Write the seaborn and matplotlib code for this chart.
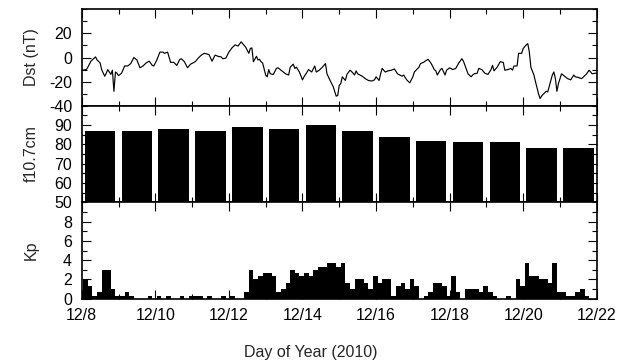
import numpy as np
import pandas as pd
import matplotlib
matplotlib.use("Agg")
import matplotlib.pyplot as plt
import seaborn as sns
from matplotlib.ticker import MultipleLocator, FixedLocator

sns.set_theme(style="ticks")
plt.rcParams['font.family'] = ['Liberation Sans', 'DejaVu Sans']
plt.rcParams['axes.unicode_minus'] = False

# ---------------- data ----------------
date_ticks = [0, 2, 4, 6, 8, 10, 12, 14]          # days after 12/8
date_labels = ["12/8", "12/10", "12/12", "12/14", "12/16", "12/18", "12/20", "12/22"]

# Dst (hours after 12/8 00UT, nT)
dst_hours = [0, 3, 4, 6, 9, 10, 12, 13, 15, 16, 17, 19, 20, 21, 22, 23, 24, 26, 28, 30,
             32, 34, 36, 38, 40, 42, 44, 46, 47, 49, 51, 53, 54, 56, 58, 60, 62, 64, 65, 67,
             69, 71, 74, 76, 78, 80, 83, 85, 87, 89, 91, 92, 94, 96, 98, 100, 102, 104, 105, 107,
             109, 110, 111, 112, 114, 115, 116, 117, 118, 120, 121, 122, 123, 125, 127, 128, 130, 133, 135, 136,
             138, 139, 140, 142, 144, 145, 147, 148, 150, 152, 153, 155, 157, 159, 160, 162, 164, 166, 167, 168,
             169, 170, 172, 173, 175, 176, 178, 179, 180, 183, 185, 187, 189, 191, 192, 194, 195, 196, 198, 200,
             202, 204, 206, 209, 210, 212, 214, 216, 217, 220, 221, 223, 224, 226, 228, 230, 231, 232, 234, 235,
             237, 238, 240, 242, 244, 246, 248, 249, 250, 252, 254, 255, 256, 258, 259, 261, 263, 265, 267, 268,
             269, 271, 273, 275, 276, 278, 280, 281, 282, 284, 285, 287, 288, 290, 291, 292, 293, 295, 296, 298,
             299, 300, 301, 303, 304, 306, 307, 308, 309, 310, 311, 313, 314, 317, 319, 321, 322, 324, 326, 327,
             329, 331, 332, 333, 335, 336]
dst_values = [-10.5, -10, -8, -3, 0.5, -2, -4.5, -10, -15.5, -13, -10, -14, -10.5, -28, -12, -13, -15, -13, -7, -7,
              -5, 0, -2, -8.5, -7, -4.5, -3, -6.5, -7, -2, 4.5, 4.5, 3.5, 4.5, -4, -4, -6.5, -1.5, -1, -3.5,
              -8.5, -5.5, -3.5, -0.5, 2, 3.5, 2.5, -3, 2, 1, 0.5, -1, -0.5, 4.5, 8, 10.5, 9.5, 13, 11.5, 8.5,
              3.5, 7.5, 8, -3.5, 1, -2, -1.5, -3.5, -4.5, -14.5, -16, -10, -13.5, -14, -9, -8.5, -10.5, -13.5, -14.5, -8,
              -5.5, -9, -8, -12, -18.5, -16, -12, -10, -12, -7, -12, -10.5, -8, -5, -13.5, -19, -24, -32, -31.5, -23,
              -21.5, -16, -19, -14, -10.5, -11.5, -14.5, -11, -13.5, -15.5, -17.5, -19, -19.5, -18.5, -16, -19, -13.5, -9, -12, -11,
              -10.5, -9.5, -13.5, -15.5, -14.5, -18.5, -21, -16, -12, -8, -5, -4, -3, -1.5, -5, -10, -11, -14.5, -10, -9,
              -14.5, -10.5, -8.5, -10, -9, -4.5, -1, -3, -6.5, -13.5, -16, -14.5, -13.5, -13, -9, -10, -13, -14, -10, -6.5,
              -11, -8, -3.5, -4, -10.5, -10, -9, -10.5, -7, -7, 3.5, 3.5, 7.5, 10.5, 11.5, 4.5, -8, -14.5, -20, -30,
              -34, -32, -30.5, -28, -28.5, -19, -14.5, -12, -17.5, -28, -21.5, -13.5, -14.5, -17.5, -18.5, -14.5, -16, -16.5, -17.5, -16.5,
              -14, -10.5, -12, -13.5, -13, -13]

# daily F10.7 (12/8 ... 12/21)
f107_day = list(range(14))
f107_values = [87, 87, 88, 87, 89, 88, 90, 87, 84, 82, 81, 81, 78, 78]

# 3-hourly Kp (12/8 00UT ... 12/21 21UT)
kp_values = [2.0, 1.33, 0.33, 0.67, 3.0, 3.0, 1.0, 0.33,
             0.33, 0.67, 0.33, 0, 0, 0, 0.33, 0,
             0.33, 0, 0.33, 0, 0, 0.33, 0, 0.33,
             0.33, 0.33, 0, 0.33, 0, 0, 0.33, 0,
             0.33, 0, 0, 0.67, 3.0, 2.0, 2.33, 2.67,
             2.67, 2.33, 0.67, 1.0, 1.67, 3.0, 2.67, 2.33,
             2.67, 2.33, 3.0, 3.33, 3.33, 3.67, 3.67, 3.33,
             3.67, 1.67, 1.0, 2.0, 2.0, 1.67, 1.0, 2.33,
             1.67, 2.0, 2.0, 0.33, 1.33, 1.67, 1.0, 2.0,
             1.33, 0, 0.33, 0.67, 1.67, 1.67, 1.33, 0.33,
             2.33, 0.67, 0, 1.0, 1.0, 1.0, 0.67, 1.33,
             0.67, 0.33, 0, 0, 0.33, 0, 2.0, 1.33,
             3.67, 2.33, 2.33, 2.0, 2.0, 1.67, 3.67, 0.67,
             0.67, 0.33, 0.33, 0.67, 1.0, 0.33, 0, 0]

# ---------------- figure ----------------
FS = 11.5
fig, (ax1, ax2, ax3) = plt.subplots(3, 1, figsize=(6.21, 3.63), dpi=100, sharex=True)
fig.subplots_adjust(left=0.1316, right=0.961, top=0.9744, bottom=0.177, hspace=0)

dst_df = pd.DataFrame({"day": np.array(dst_hours) / 24.0, "dst": dst_values})
sns.lineplot(data=dst_df, x="day", y="dst", color="black", linewidth=0.85, ax=ax1)

f107_df = pd.DataFrame({"day": np.array(f107_day) + 0.5, "f107": f107_values})
sns.barplot(data=f107_df, x="day", y="f107", native_scale=True, width=0.83,
            color="black", saturation=1, errorbar=None, linewidth=0, ax=ax2)

kp_df = pd.DataFrame({"day": (np.arange(len(kp_values)) * 3 + 2.5) / 24.0, "kp": kp_values})
sns.barplot(data=kp_df, x="day", y="kp", native_scale=True, width=1.0,
            color="black", saturation=1, errorbar=None, linewidth=0, ax=ax3)

ax1.set_ylim(-40, 40)
ax1.yaxis.set_major_locator(FixedLocator([-40, -20, 0, 20]))
ax1.yaxis.set_minor_locator(MultipleLocator(10))
ax1.set_ylabel("Dst (nT)")

ax2.set_ylim(50, 100)
ax2.yaxis.set_major_locator(FixedLocator([50, 60, 70, 80, 90]))
ax2.yaxis.set_minor_locator(MultipleLocator(5))
ax2.set_ylabel("f10.7cm")

ax3.set_ylim(0, 10)
ax3.yaxis.set_major_locator(FixedLocator([0, 2, 4, 6, 8]))
ax3.yaxis.set_minor_locator(MultipleLocator(1))
ax3.set_ylabel("Kp")

for ax in (ax1, ax2, ax3):
    ax.set_xlim(0, 14)
    ax.xaxis.set_major_locator(FixedLocator(date_ticks))
    ax.xaxis.set_minor_locator(MultipleLocator(1))
    ax.tick_params(which="both", direction="in", top=True, right=True,
                   width=0.8, colors="black", labelsize=FS, pad=7)
    ax.tick_params(which="major", length=6.5)
    ax.tick_params(which="minor", length=3.6)
    for s in ax.spines.values():
        s.set_linewidth(1.2)
        s.set_color("black")
    ax.yaxis.set_label_coords(-0.083, 0.5)
    ax.yaxis.label.set_size(FS)
    ax.set_xlabel("")

ax3.set_xticklabels(date_labels)
ax3.set_xlabel("Day of Year (2010)", fontsize=FS)
ax3.xaxis.set_label_coords(0.444, -0.56)
ax3.xaxis.label.set_va("center")

fig.savefig("out.png", dpi=100, facecolor="white")
